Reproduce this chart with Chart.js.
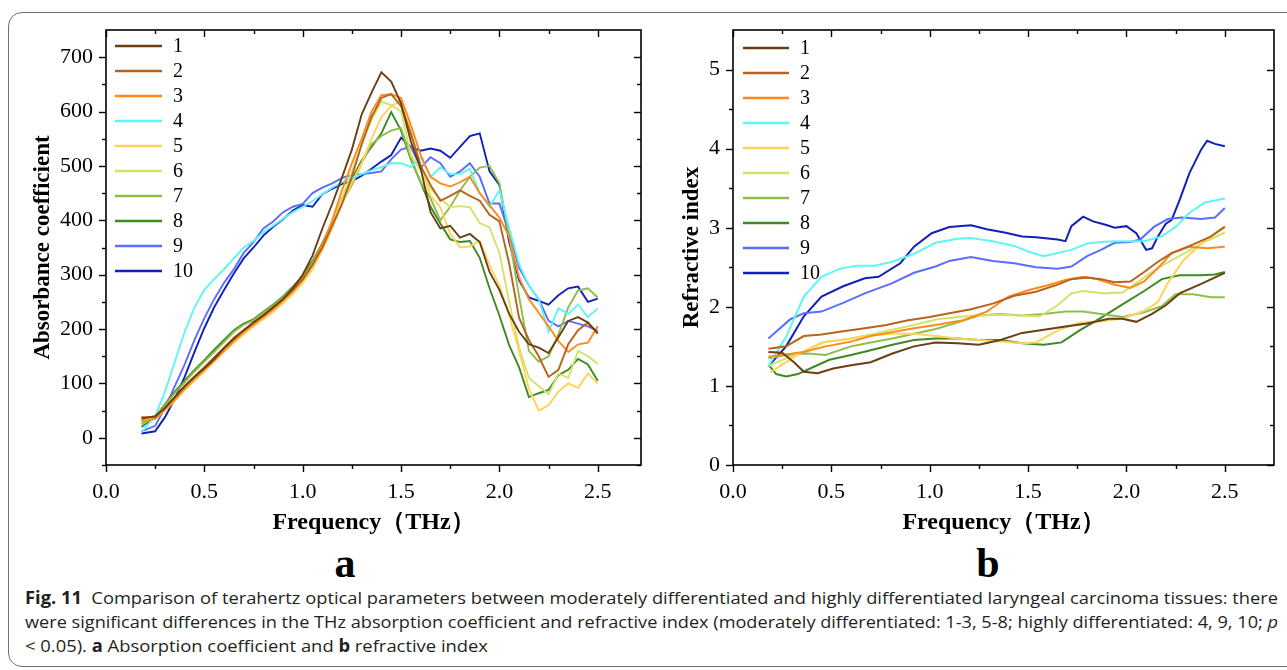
<!DOCTYPE html>
<html><head><meta charset="utf-8">
<script src="https://cdn.jsdelivr.net/npm/chart.js@4.4.0/dist/chart.umd.min.js"></script>
<style>
html,body{margin:0;padding:0;width:1287px;height:670px;overflow:hidden;background:#fff;}
#frame{position:absolute;left:8px;top:12px;width:1310px;height:655px;border:1.3px solid #707070;border-radius:14px;box-sizing:border-box;}
#ca{position:absolute;left:0;top:0;}
#cb{position:absolute;left:645px;top:0;}
.lbl{position:absolute;font-family:"Liberation Serif","DejaVu Serif",serif;font-weight:bold;font-size:42px;line-height:42px;width:60px;text-align:center;color:#000;}
#cap{position:absolute;left:25px;top:586px;font-family:"Open Sans","Noto Sans",sans-serif;font-size:17px;line-height:24px;color:#231f20;}
#cap .ln{display:block;white-space:nowrap;transform-origin:0 0;width:max-content;}
</style></head>
<body>
<div id="frame"></div>
<canvas id="ca" width="660" height="540"></canvas>
<canvas id="cb" width="642" height="540"></canvas>
<div class="lbl" style="left:315px;top:542px;">a</div>
<div class="lbl" style="left:958px;top:542px;">b</div>
<div id="cap">
<span class="ln" data-w="1253"><b>Fig. 11</b>&nbsp; Comparison of terahertz optical parameters between moderately differentiated and highly differentiated laryngeal carcinoma tissues: there</span>
<span class="ln" data-w="1253">were significant differences in the THz absorption coefficient and refractive index (moderately differentiated: 1-3, 5-8; highly differentiated: 4, 9, 10; <i>p</i></span>
<span class="ln" data-w="463">&lt; 0.05). <b>a</b> Absorption coefficient and <b>b</b> refractive index</span>
</div>
<script>
// ---------- data ----------
const seriesNames = ['1','2','3','4','5','6','7','8','9','10'];
const seriesColors = ['#6a3f14','#b8621c','#ff8a1c','#5ef5f5','#ffd35a','#d5e26a','#8cbf4a','#3d8a20','#5a6dff','#1020b8'];

const freqA = [0.18,0.25,0.3,0.35,0.4,0.45,0.5,0.55,0.6,0.65,0.7,0.75,0.8,0.85,0.9,0.95,1.0,1.05,1.1,1.15,1.2,1.25,1.3,1.35,1.4,1.45,1.5,1.55,1.6,1.65,1.7,1.75,1.8,1.85,1.9,1.95,2.0,2.05,2.1,2.15,2.2,2.25,2.3,2.35,2.4,2.45,2.5];
const absA1 = [35,40,55,75,95,112,128,145,165,182,198,212,225,240,255,275,300,335,385,430,479,530,595,635,672,655,615,545,495,415,385,390,368,375,360,305,272,228,195,172,166,156,185,215,222,212,192];
const absA2 = [38,38,55,75,95,113,130,148,166,184,198,212,226,240,255,272,292,318,350,390,430,480,540,590,625,632,610,560,500,465,436,445,455,445,436,410,398,320,221,180,150,112,125,172,198,212,192];
const absA3 = [30,35,52,70,90,108,125,142,160,178,194,208,222,236,252,270,290,318,355,400,455,505,550,600,630,632,625,575,520,480,468,462,470,480,450,428,405,370,295,255,230,205,178,158,172,175,205];
const absA4 = [10,40,85,140,195,240,272,292,310,330,350,362,378,390,403,415,425,435,448,460,470,478,485,492,498,505,505,498,516,480,497,485,485,495,450,425,455,385,320,280,255,195,238,228,245,222,238];
const absA5 = [32,35,50,68,88,105,122,140,158,175,190,205,218,232,248,265,285,310,345,385,430,470,505,550,590,610,620,560,500,445,424,375,350,352,362,318,280,225,160,90,50,60,85,100,92,118,100];
const absA6 = [30,36,52,72,92,110,126,143,160,178,194,208,222,236,250,268,288,315,350,395,440,490,540,585,618,612,600,520,490,458,440,424,426,424,395,387,340,250,166,110,95,80,118,110,160,150,136];
const absA7 = [25,40,60,82,102,122,140,158,176,195,208,216,230,244,258,275,295,322,355,392,432,465,505,540,555,565,570,515,470,440,400,425,455,480,497,500,468,370,260,160,140,150,190,240,271,275,258];
const absA8 = [20,38,62,85,105,125,143,162,180,198,210,218,232,245,260,278,298,325,358,395,440,475,510,535,560,599,565,512,470,425,394,365,360,362,331,275,225,170,130,75,82,88,115,125,145,135,105];
const absA9 = [12,22,55,95,135,180,220,255,285,310,340,360,385,398,415,425,430,450,460,468,478,483,485,487,490,512,530,535,497,516,505,480,490,505,480,431,431,375,313,280,255,215,205,215,210,205,197];
const absA10 = [8,12,38,72,112,158,202,240,272,302,330,350,372,388,402,418,428,425,448,458,467,472,482,495,508,520,552,535,528,532,528,515,535,555,560,490,465,360,290,258,252,245,262,275,278,250,256];

const refB1 = [[0.18,1.43],[0.25,1.42],[0.31,1.30],[0.36,1.18],[0.43,1.16],[0.51,1.22],[0.60,1.26],[0.70,1.30],[0.81,1.41],[0.92,1.50],[1.03,1.55],[1.14,1.54],[1.25,1.52],[1.36,1.58],[1.47,1.67],[1.58,1.71],[1.69,1.75],[1.80,1.79],[1.91,1.85],[1.98,1.85],[2.05,1.81],[2.13,1.91],[2.20,2.02],[2.27,2.17],[2.38,2.29],[2.5,2.43]];
const refB2 = [[0.18,1.47],[0.27,1.50],[0.36,1.63],[0.45,1.65],[0.56,1.69],[0.67,1.73],[0.78,1.77],[0.89,1.83],[1.00,1.87],[1.10,1.92],[1.21,1.97],[1.32,2.04],[1.43,2.14],[1.54,2.19],[1.65,2.28],[1.72,2.35],[1.80,2.37],[1.87,2.35],[1.94,2.31],[2.02,2.32],[2.09,2.44],[2.16,2.57],[2.23,2.68],[2.34,2.79],[2.43,2.89],[2.5,3.01]];
const refB3 = [[0.18,1.37],[0.25,1.39],[0.36,1.43],[0.47,1.50],[0.60,1.56],[0.70,1.63],[0.81,1.68],[0.92,1.73],[1.03,1.77],[1.17,1.83],[1.29,1.94],[1.40,2.13],[1.50,2.21],[1.61,2.28],[1.69,2.34],[1.78,2.38],[1.85,2.35],[1.94,2.28],[2.02,2.24],[2.09,2.32],[2.16,2.49],[2.23,2.68],[2.32,2.76],[2.41,2.74],[2.5,2.76]];
const refB4 = [[0.18,1.25],[0.27,1.62],[0.36,2.13],[0.45,2.38],[0.54,2.48],[0.63,2.52],[0.72,2.52],[0.81,2.57],[0.92,2.67],[1.03,2.81],[1.14,2.86],[1.21,2.87],[1.32,2.83],[1.43,2.77],[1.50,2.70],[1.58,2.64],[1.65,2.68],[1.72,2.72],[1.80,2.80],[1.87,2.82],[1.94,2.83],[2.02,2.83],[2.09,2.83],[2.18,2.89],[2.25,3.01],[2.32,3.19],[2.40,3.32],[2.5,3.37]];
const refB5 = [[0.19,1.17],[0.25,1.27],[0.34,1.41],[0.45,1.55],[0.56,1.58],[0.67,1.63],[0.80,1.66],[0.92,1.66],[1.03,1.63],[1.14,1.60],[1.25,1.58],[1.36,1.56],[1.47,1.54],[1.54,1.55],[1.65,1.70],[1.76,1.80],[1.87,1.82],[1.98,1.85],[2.09,1.95],[2.16,2.06],[2.21,2.30],[2.29,2.59],[2.38,2.80],[2.5,3.02]];
const refB6 = [[0.18,1.25],[0.25,1.33],[0.34,1.41],[0.47,1.56],[0.60,1.60],[0.70,1.65],[0.81,1.71],[0.92,1.77],[1.03,1.84],[1.14,1.87],[1.25,1.89],[1.36,1.90],[1.47,1.89],[1.56,1.88],[1.65,2.02],[1.72,2.17],[1.78,2.20],[1.89,2.17],[1.98,2.18],[2.05,2.30],[2.13,2.44],[2.20,2.55],[2.29,2.67],[2.38,2.80],[2.5,2.94]];
const refB7 = [[0.18,1.35],[0.27,1.39],[0.38,1.41],[0.47,1.39],[0.60,1.50],[0.70,1.55],[0.81,1.60],[0.92,1.66],[1.03,1.72],[1.14,1.80],[1.25,1.89],[1.36,1.91],[1.47,1.89],[1.58,1.91],[1.69,1.94],[1.78,1.94],[1.87,1.91],[1.98,1.87],[2.09,1.93],[2.18,2.01],[2.25,2.16],[2.34,2.16],[2.43,2.12],[2.5,2.12]];
const refB8 = [[0.18,1.27],[0.22,1.15],[0.27,1.12],[0.33,1.15],[0.40,1.23],[0.49,1.33],[0.60,1.39],[0.70,1.45],[0.81,1.52],[0.92,1.58],[1.03,1.60],[1.14,1.60],[1.25,1.58],[1.36,1.58],[1.47,1.54],[1.58,1.52],[1.67,1.55],[1.76,1.70],[1.87,1.86],[1.98,2.03],[2.09,2.20],[2.18,2.35],[2.27,2.40],[2.38,2.40],[2.45,2.41],[2.5,2.44]];
const refB9 = [[0.18,1.60],[0.29,1.84],[0.36,1.92],[0.45,1.94],[0.56,2.05],[0.67,2.17],[0.81,2.30],[0.92,2.43],[1.03,2.51],[1.10,2.58],[1.21,2.63],[1.32,2.58],[1.43,2.55],[1.54,2.50],[1.65,2.48],[1.72,2.51],[1.80,2.64],[1.87,2.72],[1.94,2.81],[2.02,2.82],[2.07,2.85],[2.14,3.01],[2.21,3.11],[2.28,3.13],[2.38,3.11],[2.45,3.13],[2.5,3.25]];
const refB10 = [[0.18,1.25],[0.27,1.50],[0.36,1.88],[0.45,2.13],[0.56,2.26],[0.67,2.36],[0.74,2.38],[0.85,2.55],[0.92,2.76],[1.01,2.93],[1.10,3.01],[1.21,3.03],[1.29,2.98],[1.38,2.94],[1.47,2.89],[1.54,2.88],[1.65,2.85],[1.69,2.83],[1.72,3.02],[1.78,3.14],[1.83,3.08],[1.89,3.04],[1.94,3.00],[2.00,3.02],[2.05,2.93],[2.10,2.72],[2.13,2.74],[2.16,2.89],[2.20,3.05],[2.23,3.10],[2.27,3.35],[2.32,3.69],[2.38,3.99],[2.41,4.10],[2.45,4.06],[2.5,4.03]];

const xTickLabels = [0, 0.5, 1.0, 1.5, 2.0, 2.5];
const xMinorTicks = [0.25, 0.75, 1.25, 1.75, 2.25];
const yTicksA = [0, 100, 200, 300, 400, 500, 600, 700];
const yMinorA = [-50, 50, 150, 250, 350, 450, 550, 650];
const yTicksB = [0, 1, 2, 3, 4, 5];
const yMinorB = [0.5, 1.5, 2.5, 3.5, 4.5];

// ---------- plugins ----------
const frameTicks = {
  id: 'frameTicks',
  afterDraw(chart, args, o) {
    const {ctx, chartArea: ca, scales: {x, y}} = chart;
    ctx.save();
    ctx.strokeStyle = '#000';
    ctx.lineWidth = 1.6;
    ctx.strokeRect(ca.left, ca.top, ca.right - ca.left, ca.bottom - ca.top);
    ctx.lineWidth = 1.4;
    const seg = (x1, y1, x2, y2) => { ctx.beginPath(); ctx.moveTo(x1, y1); ctx.lineTo(x2, y2); ctx.stroke(); };
    const xt = (vals, len) => vals.forEach(v => {
      const p = Math.round(x.getPixelForValue(v)) + 0.5;
      seg(p, ca.bottom, p, ca.bottom + len);
      seg(p, ca.top, p, ca.top + len);
    });
    const yt = (vals, len) => vals.forEach(v => {
      const p = Math.round(y.getPixelForValue(v)) + 0.5;
      seg(ca.left - len, p, ca.left, p);
      seg(ca.right - len, p, ca.right, p);
    });
    xt(o.xMajor, 7); xt(o.xMinor, 4);
    yt(o.yMajor, 7); yt(o.yMinor, 4);
    ctx.restore();
  }
};
const innerLegend = {
  id: 'innerLegend',
  afterDraw(chart, args, o) {
    const ctx = chart.ctx;
    ctx.save();
    ctx.font = '20px "Liberation Serif", "DejaVu Serif", serif';
    ctx.textBaseline = 'middle';
    ctx.fillStyle = '#000';
    chart.data.datasets.forEach((ds, i) => {
      const yy = o.y0 + i * o.dy;
      ctx.strokeStyle = ds.borderColor;
      ctx.lineWidth = 2.4;
      ctx.beginPath(); ctx.moveTo(o.x0, yy); ctx.lineTo(o.x1, yy); ctx.stroke();
      ctx.fillText(ds.label, o.xt, yy + 1);
    });
    ctx.restore();
  }
};

const serif = '"Liberation Serif", "DejaVu Serif", serif';

function makeChart(id, datasets, cfg) {
  return new Chart(document.getElementById(id), {
    type: 'line',
    data: { datasets },
    plugins: [frameTicks, innerLegend],
    options: {
      responsive: false, animation: false, events: [],
      layout: { padding: { left: 0, top: 30, right: cfg.padRight, bottom: 0 } },
      elements: { point: { radius: 0 }, line: { tension: 0 } },
      plugins: {
        legend: { display: false }, tooltip: { enabled: false },
        frameTicks: { xMajor: xTickLabels, xMinor: xMinorTicks, yMajor: cfg.yTicks, yMinor: cfg.yMinor },
        innerLegend: cfg.legend
      },
      scales: {
        x: {
          type: 'linear', min: 0, max: cfg.xMax,
          afterBuildTicks: s => { s.ticks = xTickLabels.map(v => ({ value: v })); },
          afterFit: s => { s.height = 75; },
          grid: { display: false, drawTicks: false }, border: { display: false },
          ticks: { padding: 14, color: '#000', font: { family: serif, size: 22 }, maxRotation: 0, autoSkip: false, callback: v => Number(v).toFixed(1) },
          title: { display: true, text: 'Frequency（THz）', color: '#000', font: { family: serif, size: 24, weight: 'bold' }, padding: { top: 0, bottom: 3 } }
        },
        y: {
          type: 'linear', min: cfg.yMin, max: cfg.yMax,
          afterBuildTicks: s => { s.ticks = cfg.yTicks.map(v => ({ value: v })); },
          afterFit: s => { s.width = cfg.yWidth; },
          grid: { display: false, drawTicks: false }, border: { display: false },
          ticks: { padding: 13, color: '#000', font: { family: serif, size: 22 }, callback: v => String(v) },
          title: { display: true, text: cfg.yTitle, color: '#000', font: { family: serif, size: 23, weight: 'bold' }, padding: { top: cfg.yTitlePad, bottom: 0 } }
        }
      }
    }
  });
}

const absSeries = [absA1, absA2, absA3, absA4, absA5, absA6, absA7, absA8, absA9, absA10];
const refSeries = [refB1, refB2, refB3, refB4, refB5, refB6, refB7, refB8, refB9, refB10];

const dsA = absSeries.map((arr, i) => ({
  label: seriesNames[i], borderColor: seriesColors[i], borderWidth: 1.9, fill: false,
  data: freqA.map((f, j) => ({ x: f, y: arr[j] }))
}));
const dsB = refSeries.map((arr, i) => ({
  label: seriesNames[i], borderColor: seriesColors[i], borderWidth: 2, fill: false,
  data: arr.map(p => ({ x: p[0], y: p[1] }))
}));

makeChart('ca', dsA, {
  padRight: 19, xMax: 2.72, yMin: -50, yMax: 750, yTicks: yTicksA, yMinor: yMinorA,
  yWidth: 106, yTitle: 'Absorbance coefficient', yTitlePad: 29,
  legend: { x0: 115, x1: 162, xt: 173, y0: 46, dy: 25 }
});
makeChart('cb', dsB, {
  padRight: 13, xMax: 2.75, yMin: 0, yMax: 5.5, yTicks: yTicksB, yMinor: yMinorB,
  yWidth: 88, yTitle: 'Refractive index', yTitlePad: 33,
  legend: { x0: 98, x1: 144, xt: 155, y0: 48, dy: 25 }
});

// fit caption lines to their measured target width
document.querySelectorAll('#cap .ln[data-w]').forEach(el => {
  const w = el.getBoundingClientRect().width;
  const target = Number(el.dataset.w);
  el.style.transform = 'scaleX(' + (target / w) + ')';
});
</script>
</body></html>
